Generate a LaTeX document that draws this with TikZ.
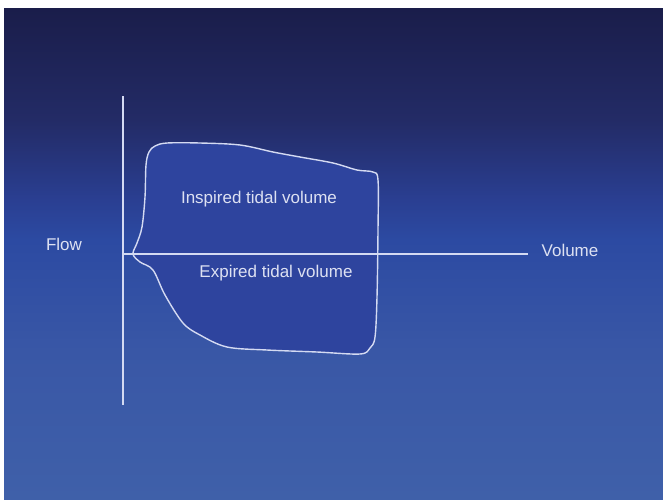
\documentclass[tikz,border=0pt]{standalone}
\usepackage{fontspec}
\setmainfont{Liberation Sans}
\definecolor{bgA}{HTML}{3F60A9}
\definecolor{bgB}{HTML}{3957A6}
\definecolor{bgC}{HTML}{2C4AA2}
\definecolor{bgD}{HTML}{2A3F92}
\definecolor{bgE}{HTML}{232B66}
\definecolor{bgF}{HTML}{1A1D4A}
\definecolor{loopfill}{HTML}{2E449E}
\definecolor{linecol}{HTML}{D4DAF2}
\definecolor{txtcol}{HTML}{DDE1F2}
\pgfdeclareverticalshading{slidebg}{100bp}{
  color(0bp)=(bgA); color(25bp)=(bgA); color(40bp)=(bgB); color(51.4bp)=(bgC);
  color(55.4bp)=(bgD); color(63.6bp)=(bgE); color(75bp)=(bgF); color(100bp)=(bgF)}
\tikzset{
  axisline/.style={draw=linecol, line width=1.6pt},
  loopline/.style={draw=linecol, line width=1.4pt, fill=loopfill, line join=round},
  lbl/.style={text=txtcol, font=\fontsize{17}{20}\selectfont, inner sep=0pt}
}
\begin{document}
\begin{tikzpicture}[x=1pt, y=-1pt]
\useasboundingbox[fill=white] (0,0) rectangle (663,499);
\shade[shading=slidebg] (4,8) rectangle (663,499);
% loop
\draw[loopline] plot[smooth cycle, tension=0.55] coordinates {
 (133,254) (137,243) (142,227) (145,197) (146,165) (149,152) (155,146) (167,143)
 (200,143) (240,145) (273,152) (300,157) (333,163) (357,170) (373,172) (378,180)
 (378,230) (377,297) (375,337) (370,348) (360,354) (317,352) (267,350) (227,347)
 (200,335) (183,323) (165,295) (153,270) (140,262)};
% axes
\coordinate (vtop) at (123,96);
\coordinate (vbot) at (123,405);
\coordinate (horig) at (123,254);
\coordinate (hend) at (528,254);
\draw[axisline] (vtop) -- (vbot);
\draw[axisline] (horig) -- (hend);
% labels
\node[lbl] (flow) at (64,244) {Flow};
\node[lbl] (vol) at (570,250) {Volume};
\node[lbl] (insp) at (259,199) {Inspired tidal volume};
\node[lbl] (exp) at (276,273) {Expired tidal volume};
\end{tikzpicture}
\end{document}
